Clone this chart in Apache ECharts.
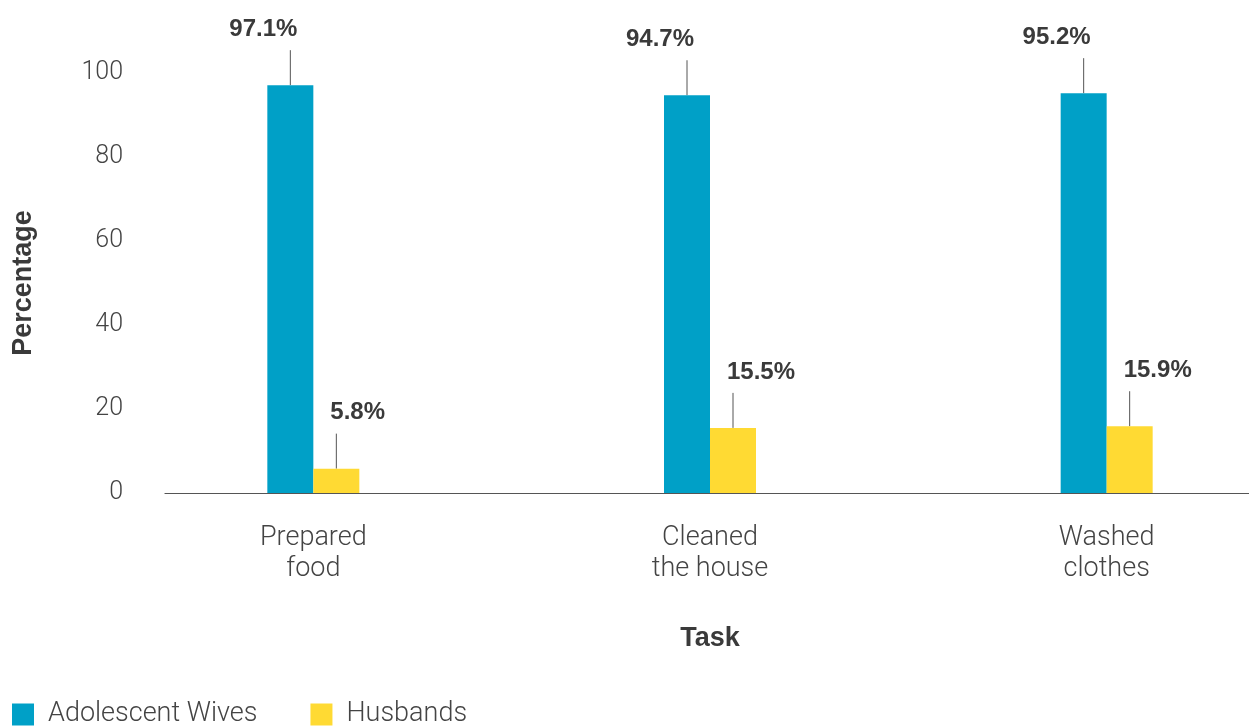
<!DOCTYPE html>
<html>
<head>
<meta charset="utf-8">
<title>Household tasks by adolescent wives and husbands</title>
<script src="https://cdn.jsdelivr.net/npm/echarts@6/dist/echarts.min.js"></script>
<style>
  html, body { margin: 0; padding: 0; background: #ffffff; }
  #chart { width: 1249px; height: 727px; }
</style>
</head>
<body>
<div id="chart"></div>
<script>
// Tasks and the share of each group that did them
const categories = ['Prepared\nfood', 'Cleaned\nthe house', 'Washed\nclothes'];
const wives = [97.1, 94.7, 95.2];
const husbands = [5.8, 15.5, 15.9];
const seriesNames = ['Adolescent Wives', 'Husbands'];
const yMin = 0, yMax = 100, yStep = 20;

const BLUE = '#00A0C7';
const YELLOW = '#FFDA33';
const LIGHT = 'Roboto';
const BOLD = 'Liberation Sans';
const BAR_W = 46;
const LEAD = 35; // length of the leader line above each bar

// Thin vertical leader line rising from the top of a bar
function leader(dx) {
  return function (params, api) {
    const p = api.coord([api.value(0), api.value(1)]);
    return {
      type: 'line',
      shape: { x1: p[0] + dx, y1: p[1], x2: p[0] + dx, y2: p[1] - LEAD },
      style: { stroke: '#555', lineWidth: 1 }
    };
  };
}

const valueLabel = (align, dx) => ({
  show: true,
  position: 'top',
  distance: 44,
  align: align,
  offset: [dx, 0],
  formatter: p => p.value.toFixed(1) + '%',
  fontFamily: BOLD,
  fontWeight: 'bold',
  fontSize: 24,
  color: '#3a3a3a'
});

const chart = echarts.init(document.getElementById('chart'), null, { renderer: 'canvas' });
chart.setOption({
  animation: false,
  backgroundColor: '#ffffff',
  textStyle: { fontFamily: LIGHT },
  grid: [
    // bars: category bands laid out over a wider span than the visible axis
    { left: 115, right: -56, top: 73, bottom: 234, outerBoundsMode: 'none' },
    // visible baseline and value scale
    { left: 165, right: 0, top: 73, bottom: 234, outerBoundsMode: 'none' }
  ],
  legend: {
    data: seriesNames,
    left: 12,
    top: 701,
    padding: 0,
    icon: 'rect',
    itemWidth: 22,
    itemHeight: 22,
    itemGap: 53,
    textStyle: { fontFamily: LIGHT, fontWeight: 300, fontSize: 27, color: '#444', padding: [5, 0, 0, 9] }
  },
  xAxis: [
    {
      type: 'category',
      gridIndex: 0,
      data: categories,
      axisLine: { show: false },
      axisTick: { show: false },
      axisLabel: { fontFamily: LIGHT, fontWeight: 300, fontSize: 27, color: '#444', lineHeight: 31, margin: 30 },
      name: 'Task',
      nameLocation: 'middle',
      nameGap: 132,
      nameTextStyle: { fontFamily: BOLD, fontWeight: 'bold', fontSize: 27, color: '#3a3a3a' }
    },
    {
      type: 'category',
      gridIndex: 1,
      data: categories,
      axisLine: { show: true, lineStyle: { color: '#555', width: 1.2 } },
      axisTick: { show: false },
      axisLabel: { show: false }
    }
  ],
  yAxis: [
    {
      type: 'value',
      gridIndex: 0,
      min: yMin, max: yMax, interval: yStep,
      show: false,
      splitLine: { show: false }
    },
    {
      type: 'value',
      gridIndex: 1,
      min: yMin, max: yMax, interval: yStep,
      axisLine: { show: false },
      axisTick: { show: false },
      splitLine: { show: false },
      axisLabel: { fontFamily: LIGHT, fontWeight: 300, fontSize: 25, color: '#444', margin: 42, padding: [6, 0, 0, 0] },
      name: 'Percentage',
      nameLocation: 'middle',
      nameRotate: 90,
      nameGap: 128,
      nameTextStyle: { fontFamily: BOLD, fontWeight: 'bold', fontSize: 27, color: '#3a3a3a' }
    }
  ],
  series: [
    {
      name: seriesNames[0],
      type: 'bar',
      xAxisIndex: 0, yAxisIndex: 0,
      data: wives,
      barWidth: BAR_W,
      barGap: '0%',
      itemStyle: { color: BLUE },
      label: valueLabel('right', 7)
    },
    {
      name: seriesNames[1],
      type: 'bar',
      xAxisIndex: 0, yAxisIndex: 0,
      data: husbands,
      barWidth: BAR_W,
      barGap: '0%',
      itemStyle: { color: YELLOW },
      label: valueLabel('left', -6)
    },
    {
      type: 'custom',
      xAxisIndex: 0, yAxisIndex: 0,
      clip: false,
      silent: true,
      renderItem: leader(-BAR_W / 2),
      data: wives.map((v, i) => [i, v])
    },
    {
      type: 'custom',
      xAxisIndex: 0, yAxisIndex: 0,
      clip: false,
      silent: true,
      renderItem: leader(BAR_W / 2),
      data: husbands.map((v, i) => [i, v])
    }
  ]
});
</script>
</body>
</html>
